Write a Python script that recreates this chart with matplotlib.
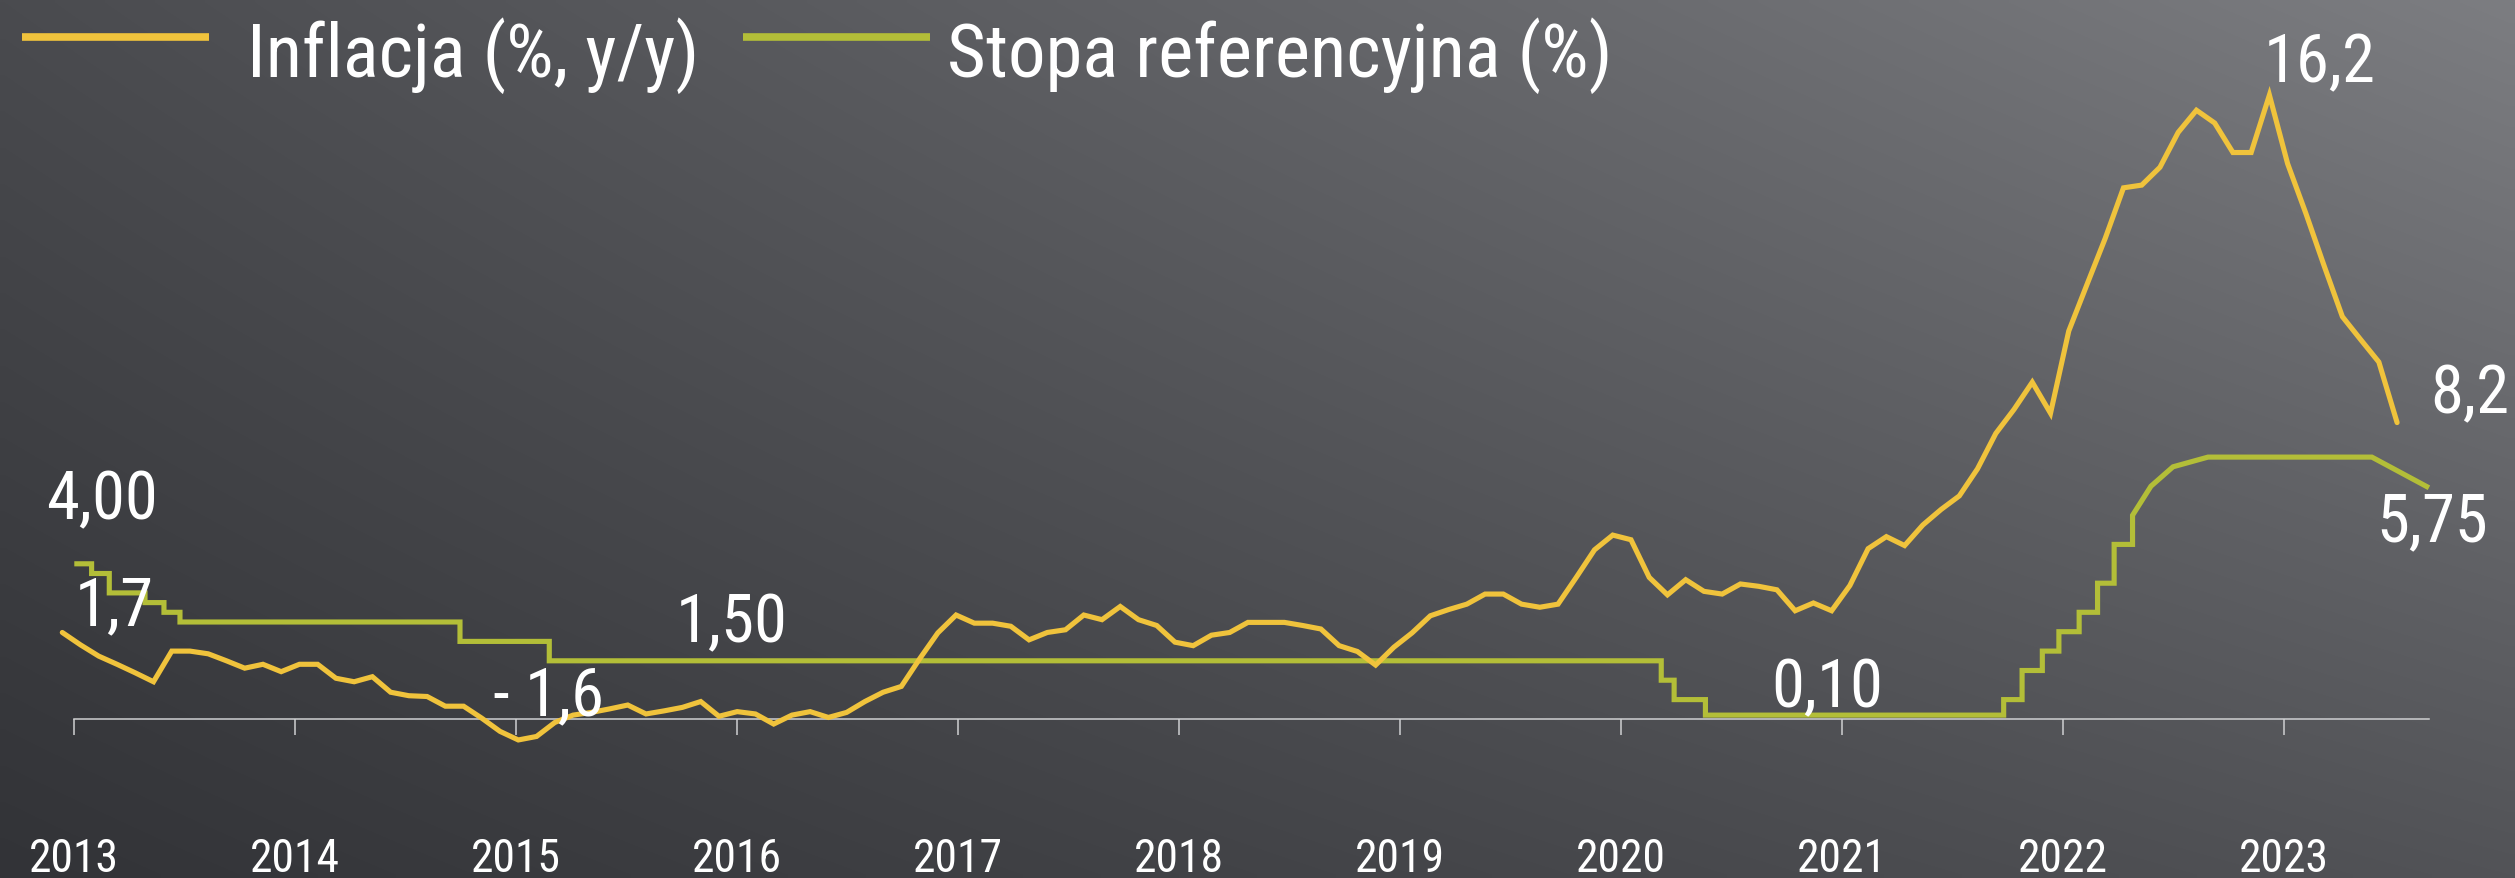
import matplotlib
matplotlib.use("Agg")
import matplotlib.pyplot as plt
import numpy as np
from matplotlib import font_manager
from matplotlib.lines import Line2D

# ── data ────────────────────────────────────────────────────────────────────
YEARS = ["2013", "2014", "2015", "2016", "2017", "2018",
         "2019", "2020", "2021", "2022", "2023"]

# CPI y/y, monthly Jan 2013 .. Sep 2023
INFLATION = [
    2.23, 1.91, 1.62, 1.41, 1.19, 0.96, 1.75, 1.75, 1.68, 1.50, 1.31, 1.41,
    1.22, 1.41, 1.41, 1.05, 0.96, 1.09, 0.69, 0.60, 0.58, 0.33, 0.33, 0.02,
    -0.32, -0.54, -0.45, -0.09, 0.10, 0.17, 0.26, 0.36, 0.13, 0.21, 0.30, 0.45,
    0.07, 0.19, 0.13, -0.13, 0.10, 0.19, 0.04, 0.17, 0.45, 0.69, 0.84, 1.55,
    2.22, 2.68, 2.47, 2.47, 2.39, 2.04, 2.23, 2.30, 2.68, 2.56, 2.90, 2.56,
    2.41, 1.98, 1.89, 2.16, 2.23, 2.49, 2.49, 2.49, 2.41, 2.32, 1.89, 1.74,
    1.39, 1.85, 2.22, 2.66, 2.82, 2.96, 3.22, 3.22, 2.96, 2.88, 2.96, 3.65,
    4.36, 4.74, 4.62, 3.65, 3.20, 3.59, 3.29, 3.22, 3.48, 3.42, 3.33, 2.79,
    2.99, 2.79, 3.44, 4.39, 4.70, 4.47, 5.00, 5.40, 5.75, 6.45, 7.36, 7.98,
    8.68, 7.88, 10.00, 11.20, 12.39, 13.69, 13.76, 14.22, 15.12, 15.69, 15.36, 14.60,
    14.60, 16.08, 14.31, 13.03, 11.68, 10.37, 9.78, 9.20, 7.64,
]

# reference rate: step changes (months since Jan 2013) ...
RATE_CHANGE_MONTH = [0, 0.94, 1.9, 3.84, 4.87, 5.74, 20.95, 25.8, 86.2, 86.9,
                     88.6, 104.8, 105.8, 106.9, 107.8, 108.9, 109.9, 110.8, 111.8]
RATE_LEVEL = [4.00, 3.75, 3.25, 3.00, 2.75, 2.50, 2.00, 1.50, 1.00, 0.50,
              0.10, 0.50, 1.25, 1.75, 2.25, 2.75, 3.50, 4.50, 5.25]
# ... then plain monthly points at the end
RATE_TAIL_MONTH = [112.8, 114.0, 115.9, 124.8, 127.9]
RATE_TAIL = [6.00, 6.50, 6.75, 6.75, 5.96]

LEGEND_LABELS = ["Inflacja (%, y/y)", "Stopa referencyjna (%)"]

# ── layout (pixels of the 2515x879 output) ─────────────────────────────────
W, H, DPI = 2515, 879, 100
X0_PX, PX_PER_MONTH = 74.3, 18.41      # Jan 2013 tick, month width
Y0_PX, PX_PER_UNIT = 720.0, 38.8       # zero line, 1 p.p.
INFL_X = (-0.652, 126.17)              # first / last inflation point (months)

YELLOW = "#F0C33C"
GREEN = "#B3BE38"
AXIS_GREY = "#cfd0d2"


def pick_font():
    """A narrow sans if one is installed, else Roboto."""
    fonts = font_manager.fontManager.ttflist
    names = {f.name for f in fonts}
    for name in ("Roboto Condensed", "Open Sans Condensed", "Noto Sans Condensed",
                 "Liberation Sans Narrow", "Arial Narrow"):
        if name in names:
            return name, "normal"
    for f in fonts:
        if "Serif" in f.name or "Mono" in f.name or "CJK" in f.name:
            continue
        if f.stretch in ("condensed", "semi-condensed") and f.weight in (400, "normal", "regular"):
            return f.name, f.stretch
    return "Roboto", "normal"


family, stretch = pick_font()
plt.rcParams["font.family"] = [family, "DejaVu Sans"]
plt.rcParams["font.stretch"] = stretch

fig = plt.figure(figsize=(W / DPI, H / DPI), dpi=DPI)
renderer = fig.canvas.get_renderer()


def fit_size(text, target_px, size0=40.0):
    """Font size that makes `text` about target_px wide."""
    t = fig.text(0, 0, text, fontsize=size0)
    w = t.get_window_extent(renderer=renderer).width
    t.remove()
    return size0 * target_px / w


# background: diagonal grey gradient, lighter towards the top right
bg = fig.add_axes([0, 0, 1, 1], zorder=0)
corners = np.array([[[74, 75, 79], [124, 125, 129]],
                    [[50, 51, 55], [82, 83, 87]]], dtype=float) / 255.0
u = np.linspace(0, 1, 256)[None, :, None]
v = np.linspace(0, 1, 128)[:, None, None]
top = corners[0, 0] * (1 - u) + corners[0, 1] * u
bot = corners[1, 0] * (1 - u) + corners[1, 1] * u
bg.imshow(top * (1 - v) + bot * v, aspect="auto", interpolation="bilinear",
          extent=(0, 1, 0, 1))
bg.set_axis_off()

ax = fig.add_axes([0, 0, 1, 1], zorder=1)
ax.patch.set_alpha(0)
ax.set_xlim(-X0_PX / PX_PER_MONTH, (W - X0_PX) / PX_PER_MONTH)
ax.set_ylim(-(H - Y0_PX) / PX_PER_UNIT, Y0_PX / PX_PER_UNIT)

# reference rate as a step path plus the final monthly points
rx, ry = [], []
for i, (m, lvl) in enumerate(zip(RATE_CHANGE_MONTH, RATE_LEVEL)):
    if i:
        rx.append(m)
        ry.append(RATE_LEVEL[i - 1])
    rx.append(m)
    ry.append(lvl)
rx += RATE_TAIL_MONTH
ry += RATE_TAIL
ax.plot(rx, ry, color=GREEN, lw=3.7, solid_joinstyle="miter",
        solid_capstyle="butt", zorder=3)

infl_x = np.linspace(*INFL_X, len(INFLATION))
ax.plot(infl_x, INFLATION, color=YELLOW, lw=3.7, solid_joinstyle="miter",
        solid_capstyle="round", zorder=4)

# zero line with yearly ticks
year_size = fit_size("2021", 90)
for side in ("top", "left", "right"):
    ax.spines[side].set_visible(False)
ax.spines["bottom"].set_position(("data", 0))
ax.spines["bottom"].set_bounds(0, RATE_TAIL_MONTH[-1])
ax.spines["bottom"].set_color(AXIS_GREY)
ax.spines["bottom"].set_linewidth(1.1)
ax.set_xticks(np.arange(len(YEARS)) * 12, YEARS)
ax.set_yticks([])
ax.tick_params(axis="x", direction="out", length=11.5, width=1.1,
               color=AXIS_GREY, pad=73, labelsize=year_size, labelcolor="white")

# value labels, anchored to the points they describe
num_size = fit_size("16,2", 112)
kmin, kmax = int(np.argmin(INFLATION)), int(np.argmax(INFLATION))
labels = [
    ("4,00", (RATE_CHANGE_MONTH[0], RATE_LEVEL[0]), (-28, 45), "left"),
    ("1,7", (infl_x[0], INFLATION[0]), (12, 8), "left"),
    ("- 1,6", (infl_x[kmin], INFLATION[kmin]), (-25, 26), "left"),
    ("1,50", (RATE_CHANGE_MONTH[7], RATE_LEVEL[7]), (126, 19), "left"),
    ("0,10", (RATE_CHANGE_MONTH[10], RATE_LEVEL[10]), (66, 9), "left"),
    ("16,2", (infl_x[kmax], INFLATION[kmax]), (-6, 14), "left"),
    ("8,2", (infl_x[-1], INFLATION[-1]), (112, 10), "right"),
    ("5,75", (RATE_TAIL_MONTH[-1], RATE_TAIL[-1]), (-53, -53), "left"),
]
for text, xy, off, ha in labels:
    ax.annotate(text, xy=xy, xytext=off, textcoords="offset pixels",
                ha=ha, va="baseline", fontsize=num_size, color="white", zorder=6)

# legend row at the top
legend_size = fit_size(LEGEND_LABELS[1], 664)
for (x0, x1, tx), colour, label in zip([(22, 209, 247), (743, 930, 947)],
                                      [YELLOW, GREEN], LEGEND_LABELS):
    fig.add_artist(Line2D([x0 / W, x1 / W], [1 - 38 / H] * 2,
                          transform=fig.transFigure, color=colour, lw=5.5,
                          solid_capstyle="butt"))
    fig.text(tx / W, 1 - 77 / H, label, ha="left", va="baseline",
             fontsize=legend_size, color="white")

fig.savefig("out.png", dpi=DPI)
